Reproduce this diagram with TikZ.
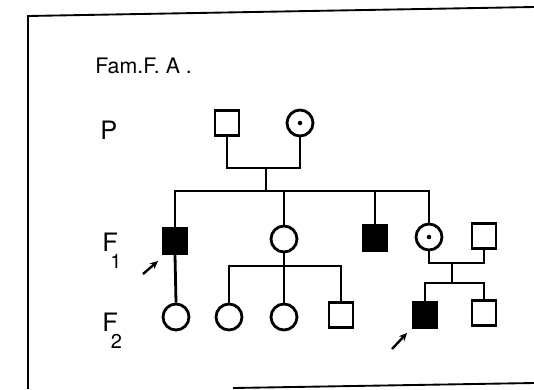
\documentclass[tikz,border=0pt]{standalone}
\usepackage{fontspec}
\setmainfont{TeX Gyre Heros}
\usetikzlibrary{arrows.meta}
\begin{document}
\begin{tikzpicture}[x=0.75pt,y=-0.75pt,
  line width=2.1pt,
  male/.style={draw,rectangle,minimum width=18pt,minimum height=19pt,inner sep=0pt},
  female/.style={draw,circle,minimum size=19.5pt,inner sep=0pt},
  aff/.style={fill=black},
  carrier/.style={path picture={\fill (path picture bounding box.center) circle (1.7pt);}},
  lbl/.style={font=\fontsize{19}{19}\selectfont,inner sep=0pt},
  proband/.style={line width=1.8pt,-{Stealth[length=6pt,width=5.5pt]}},
  frame/.style={line width=1.4pt}]
\useasboundingbox (0,0) rectangle (534,389);
% frame
\draw[frame] (534,7) -- (28,16) -- (28,389);
\draw[frame] (233,388) -- (534,383);
% labels
\node[anchor=base west,inner sep=0pt,font=\fontsize{16}{16}\selectfont] (title) at (94,73) {Fam.F. A .};
\node[lbl,anchor=base west] (lp) at (99,139) {P};
\node[lbl,anchor=base west] (lf1) at (101,251) {F\kern-0.3em\raisebox{-0.68em}{\fontsize{15}{15}\selectfont 1}};
\node[lbl,anchor=base west] (lf2) at (101,331) {F\kern-0.28em\raisebox{-0.68em}{\fontsize{15}{15}\selectfont 2}};
% P generation
\node[male] (pa) at (227,123) {};
\node[female,carrier] (pb) at (300,123) {};
% F1
\node[male,aff] (fa) at (175,241) {};
\node[female] (fb) at (284,239) {};
\node[male,aff] (fc) at (375,238) {};
\node[female,carrier] (fd) at (429,237) {};
\node[male] (fe) at (484,236) {};
% F2
\node[female] (ga) at (176,317) {};
\node[female] (gb) at (229,317) {};
\node[female] (gc) at (284,317) {};
\node[male] (gd) at (341,315) {};
\node[male,aff] (ge) at (425,315) {};
\node[male] (gf) at (484,313) {};
% P marriage and sibship
\coordinate (m1) at (266,168);
\coordinate (s1) at (266,191);
\draw (pa.south) |- (m1) -| (pb.south);
\draw (m1) -- (s1);
\draw (fa.north) |- (s1) -| (fd.north);
\draw (fb.north) -- (fb.north |- s1);
\draw (fc.north) -- (fc.north |- s1);
% F1 line 1
\draw (fa.south) -- (ga.north);
% F1 circle sibship
\coordinate (s2) at (284,266);
\draw (fb.south) -- (gc.north);
\draw (gb.north) |- (s2) -| (gd.north);
% right couple
\coordinate (m3) at (452,263);
\coordinate (s3) at (452,283);
\draw (fd.south) |- (m3) -| (fe.south);
\draw (m3) -- (s3);
\draw (ge.north) |- (s3) -| (gf.north);
% proband arrows
\coordinate (a1s) at (143,274);
\coordinate (a1e) at (158,261);
\coordinate (a2s) at (392,349);
\coordinate (a2e) at (407,333);
\draw[proband] (a1s) -- (a1e);
\draw[proband] (a2s) -- (a2e);
\end{tikzpicture}
\end{document}
